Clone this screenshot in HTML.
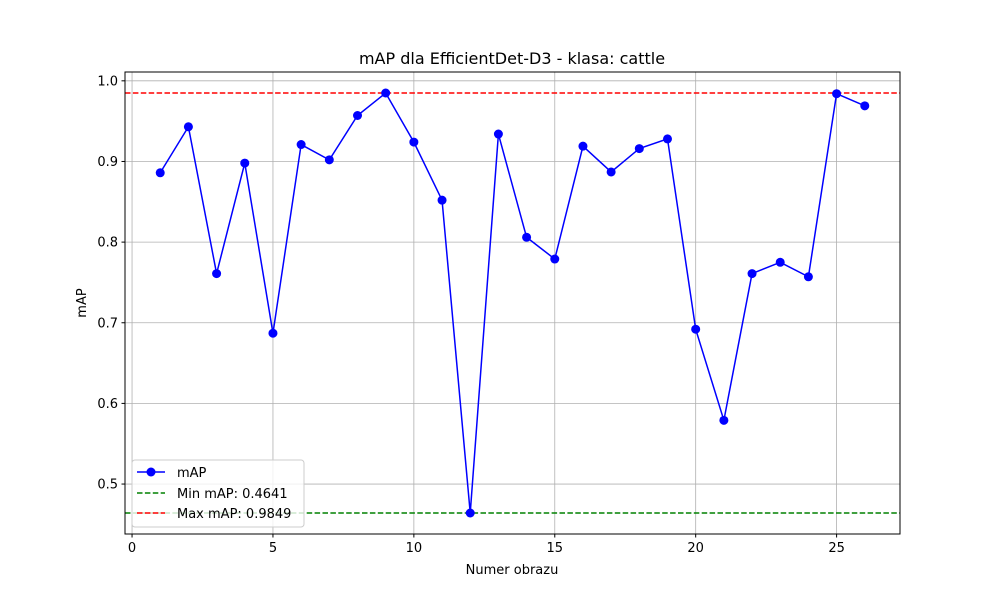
<!DOCTYPE html>
<html><head><meta charset="utf-8"><style>
body{margin:0;background:#fff;}
svg text{font-family:"DejaVu Sans","Liberation Sans",sans-serif;}
</style></head><body>
<svg id="chart" width="1000" height="600" xmlns="http://www.w3.org/2000/svg">
<rect width="1000" height="600" fill="#fff"/>
<g id="grid"></g>
<g id="refs"></g>
<g id="series"></g>
<rect x="125" y="72" width="775" height="462" fill="none" stroke="#000" stroke-width="1"/>
<g id="xticks"></g><g id="yticks"></g>
<text x="512" y="64" font-size="16" text-anchor="middle">mAP dla EfficientDet-D3 - klasa: cattle</text>
<text x="512" y="574" font-size="13" text-anchor="middle">Numer obrazu</text>
<text x="0" y="0" font-size="13" text-anchor="middle" transform="translate(86,303) rotate(-90)">mAP</text>
<g>
<rect x="132" y="460" width="172" height="67" rx="3" fill="#fff" fill-opacity="0.8" stroke="#ccc"/>
<g><line x1="137" y1="472" x2="165" y2="472" stroke="#0000ff" stroke-width="1.5"/><circle cx="151" cy="472" r="4.5" fill="#0000ff"/><text x="177" y="477" font-size="13">mAP</text></g>
<g><line x1="137" y1="493" x2="165" y2="493" stroke="#008000" stroke-width="1.5" stroke-dasharray="5.5,2.4"/><text x="177" y="498" font-size="13">Min mAP: 0.4641</text></g>
<g><line x1="137" y1="513" x2="165" y2="513" stroke="#ff0000" stroke-width="1.5" stroke-dasharray="5.5,2.4"/><text x="177" y="518" font-size="13">Max mAP: 0.9849</text></g>
</g>
</svg>
<script>
const images=[1,2,3,4,5,6,7,8,9,10,11,12,13,14,15,16,17,18,19,20,21,22,23,24,25,26];
const mapValues=[0.886,0.943,0.761,0.898,0.687,0.921,0.902,0.957,0.9849,0.924,0.852,0.4641,0.934,0.806,0.779,0.919,0.887,0.916,0.928,0.692,0.579,0.761,0.775,0.757,0.984,0.969];
const minMap=0.4641, maxMap=0.9849;
const xTickLabels=[0,5,10,15,20,25];
const yTickLabels=[0.5,0.6,0.7,0.8,0.9,1.0];
const NS="http://www.w3.org/2000/svg";
const L=125,R=900,T=72,B=534;
const xMin=-0.25,xMax=27.25;
const span=maxMap-minMap, yMin=minMap-0.05*span, yMax=maxMap+0.05*span;
const xs=v=>L+(v-xMin)/(xMax-xMin)*(R-L);
const ys=v=>B-(v-yMin)/(yMax-yMin)*(B-T);
function mk(tag,attrs,parent){const e=document.createElementNS(NS,tag);for(const k in attrs)e.setAttribute(k,attrs[k]);document.getElementById(parent).appendChild(e);return e;}
xTickLabels.forEach(t=>{const x=xs(t);
 const g=mk('line',{x1:x,x2:x,y1:T,y2:B,stroke:'#b0b0b0','stroke-width':0.8},'grid');
 
 
 mk('line',{x1:x,x2:x,y1:B,y2:B+3.5,stroke:'#000'},'xticks');
 const tx=mk('text',{x:x,y:B+18,'font-size':13,'text-anchor':'middle'},'xticks');tx.textContent=t;
 
 });
yTickLabels.forEach(t=>{const y=ys(t);
 const g=mk('line',{x1:L,x2:R,y1:y,y2:y,stroke:'#b0b0b0','stroke-width':0.8},'grid');
 
 
 mk('line',{x1:L-3.5,x2:L,y1:y,y2:y,stroke:'#000'},'yticks');
 const tx=mk('text',{x:L-7,y:y+4.5,'font-size':13,'text-anchor':'end'},'yticks');tx.textContent=t.toFixed(1);
 
 });
const mn=mk('line',{x1:L,x2:R,y1:ys(minMap),y2:ys(minMap),stroke:'#008000','stroke-width':1.5,'stroke-dasharray':'5.5,2.4'},'refs');


const mx=mk('line',{x1:L,x2:R,y1:ys(maxMap),y2:ys(maxMap),stroke:'#ff0000','stroke-width':1.5,'stroke-dasharray':'5.5,2.4'},'refs');


const pl=mk('polyline',{points:images.map((d,i)=>xs(d)+','+ys(mapValues[i])).join(' '),fill:'none',stroke:'#0000ff','stroke-width':1.5},'series');


images.forEach((d,i)=>{const c=mk('circle',{cx:xs(d),cy:ys(mapValues[i]),r:4.5,fill:'#0000ff'},'series');
 
 });
</script>
</body></html>
